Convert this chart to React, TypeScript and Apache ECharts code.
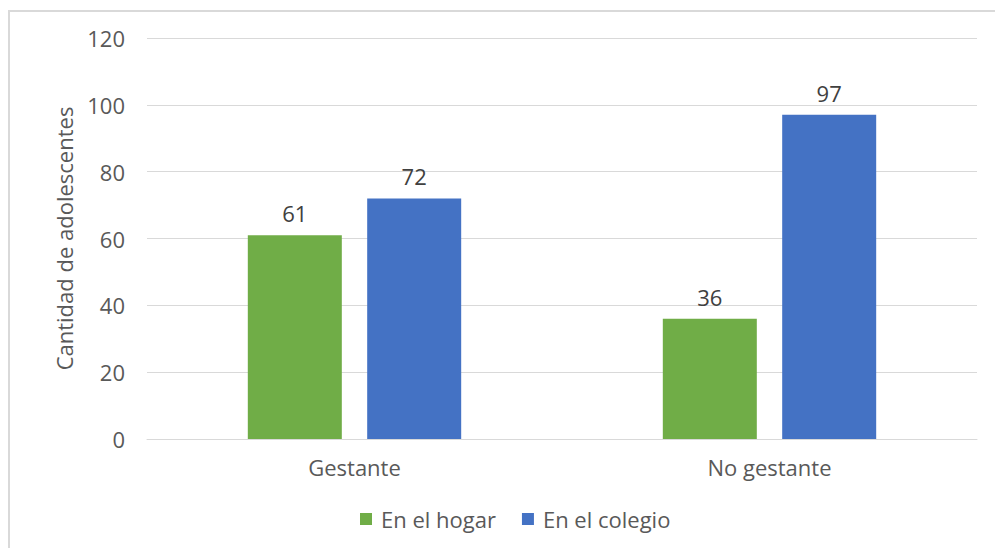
import React, { useEffect, useRef } from "react";
import * as echarts from "echarts";

const categories = ["Gestante", "No gestante"];
const hogar = [61, 36];
const colegio = [72, 97];
const seriesNames = ["En el hogar", "En el colegio"];
const yTicks = { min: 0, max: 120, interval: 20 };

export default function App() {
  const ref = useRef<HTMLDivElement>(null);
  useEffect(() => {
    if (!ref.current) return;
    const chart = echarts.init(ref.current, undefined, { renderer: "svg" });
    const font = "'Open Sans', 'Noto Sans', sans-serif";
    const labelStyle = {
      show: true,
      position: "top" as const,
      distance: 11,
      color: "#404040",
      fontSize: 22,
      fontFamily: font,
    };
    chart.setOption({
      animation: false,
      backgroundColor: "#ffffff",
      graphic: [
        {
          type: "rect",
          shape: { x: 9, y: 11, width: 1200, height: 800 },
          style: { fill: "none", stroke: "#d9d9d9", lineWidth: 2 },
          silent: true,
        },
      ],
      grid: { left: 147, right: 18, top: 38, bottom: 109, containLabel: false },
      legend: {
        data: seriesNames,
        bottom: 13,
        left: 355,
        itemWidth: 12,
        itemHeight: 12,
        itemGap: 26,
        icon: "rect",
        textStyle: { color: "#595959", fontSize: 22, fontFamily: font, padding: [0, 0, 0, 4] },
      },
      xAxis: {
        type: "category",
        data: categories,
        axisLine: { show: true, lineStyle: { color: "#d9d9d9", width: 1 } },
        axisTick: { show: false },
        axisLabel: { color: "#595959", fontSize: 22, fontFamily: font, margin: 17 },
      },
      yAxis: {
        type: "value",
        min: yTicks.min,
        max: yTicks.max,
        interval: yTicks.interval,
        name: "Cantidad de adolescentes",
        nameLocation: "middle",
        nameGap: 72,
        nameRotate: 90,
        nameTextStyle: { color: "#595959", fontSize: 22, fontFamily: font },
        axisLine: { show: false },
        axisTick: { show: false },
        axisLabel: { color: "#595959", fontSize: 22, fontFamily: font, margin: 22 },
        splitLine: { lineStyle: { color: "#d9d9d9", width: 1 } },
      },
      series: [
        {
          name: seriesNames[0],
          type: "bar",
          data: hogar,
          barWidth: 94,
          barGap: "27%",
          itemStyle: { color: "#70AD47" },
          label: labelStyle,
        },
        {
          name: seriesNames[1],
          type: "bar",
          data: colegio,
          barWidth: 94,
          itemStyle: { color: "#4472C4" },
          label: labelStyle,
        },
      ],
    });
    return () => chart.dispose();
  }, []);
  return (
    <div
      ref={ref}
      style={{ position: "absolute", left: 0, top: 0, width: 995, height: 548 }}
    />
  );
}
